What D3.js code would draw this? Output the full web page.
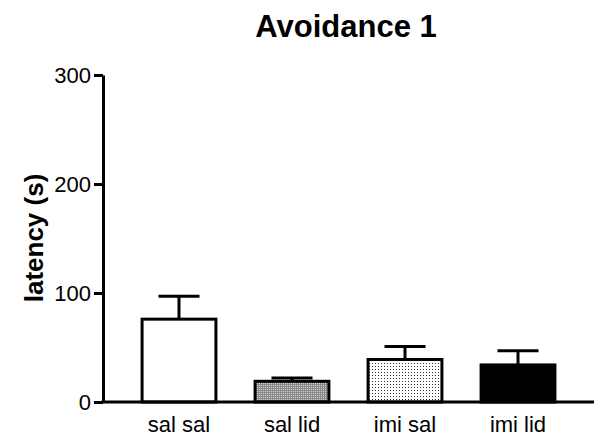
<!DOCTYPE html>
<html>
<head>
<meta charset="utf-8">
<script src="https://cdn.jsdelivr.net/npm/d3@7"></script>
<style>
  body { margin: 0; background: #fff; }
  text { font-family: "Liberation Sans", Arial, sans-serif; }
</style>
</head>
<body>
<svg width="595" height="439"></svg>
<script>
var groups = ["sal sal", "sal lid", "imi sal", "imi lid"];
var means = [76, 19, 39, 34];
var errors = [21, 3, 12, 13];
var fills = ["#ffffff", "url(#grid)", "url(#dots)", "#000000"];
var yTicks = [0, 100, 200, 300];

var svg = d3.select("svg");

var defs = svg.append("defs");
var grid = defs.append("pattern").attr("id", "grid")
    .attr("patternUnits", "userSpaceOnUse").attr("width", 2).attr("height", 2);
grid.append("rect").attr("width", 2).attr("height", 2).attr("fill", "#d0d0d0");
grid.append("rect").attr("width", 1).attr("height", 2).attr("fill", "#8a8a8a");
grid.append("rect").attr("width", 2).attr("height", 1).attr("fill", "#8a8a8a");

var dots = defs.append("pattern").attr("id", "dots")
    .attr("patternUnits", "userSpaceOnUse").attr("width", 3).attr("height", 3);
dots.append("rect").attr("width", 3).attr("height", 3).attr("fill", "#fff");
dots.append("rect").attr("width", 1).attr("height", 1).attr("fill", "#333");

var x = d3.scaleBand().domain(groups).range([122.5, 574.5])
    .paddingInner(0.32).paddingOuter(0.16);
var y = d3.scaleLinear().domain([0, 300]).range([402, 75]);

// bars
svg.append("g").selectAll("rect")
    .data(groups)
    .enter()
    .append("rect")
    .attr("x", function(d) { return x(d) + 1.5; })
    .attr("y", function(d, i) { return y(means[i]); })
    .attr("width", x.bandwidth() - 3)
    .attr("height", function(d, i) { return y(0) - y(means[i]); })
    .attr("fill", function(d, i) { return fills[i]; })
    .attr("stroke", "#000")
    .attr("stroke-width", 3);

// error bars (upper only)
var err = svg.append("g").attr("stroke", "#000").attr("stroke-width", 3);
err.selectAll("line.v")
    .data(groups)
    .enter()
    .append("line")
    .attr("class", "v")
    .attr("x1", function(d) { return x(d) + x.bandwidth() / 2; })
    .attr("x2", function(d) { return x(d) + x.bandwidth() / 2; })
    .attr("y1", function(d, i) { return y(means[i]); })
    .attr("y2", function(d, i) { return y(means[i] + errors[i]); });
err.selectAll("line.c")
    .data(groups)
    .enter()
    .append("line")
    .attr("class", "c")
    .attr("x1", function(d) { return x(d) + x.bandwidth() / 2 - 20.5; })
    .attr("x2", function(d) { return x(d) + x.bandwidth() / 2 + 20.5; })
    .attr("y1", function(d, i) { return y(means[i] + errors[i]); })
    .attr("y2", function(d, i) { return y(means[i] + errors[i]); });

// y axis
var yAxis = svg.append("g")
    .attr("transform", "translate(103,0)")
    .call(d3.axisLeft(y).tickValues(yTicks).tickSize(9).tickSizeOuter(0).tickPadding(3));
yAxis.select(".domain").attr("stroke-width", 3);
yAxis.selectAll(".tick line").attr("stroke-width", 3);
yAxis.selectAll(".tick text").attr("font-size", 22).attr("fill", "#000")
    .attr("font-family", "Liberation Sans, Arial, sans-serif");

// x axis
svg.append("line")
    .attr("x1", 101.5).attr("x2", 594)
    .attr("y1", y(0)).attr("y2", y(0))
    .attr("stroke", "#000").attr("stroke-width", 3);

svg.append("g").selectAll("text")
    .data(groups)
    .enter()
    .append("text")
    .attr("x", function(d) { return x(d) + x.bandwidth() / 2; })
    .attr("y", 432)
    .attr("text-anchor", "middle")
    .attr("font-size", 22)
    .text(function(d) { return d; });

// title and y label
svg.append("text")
    .attr("x", 346).attr("y", 37)
    .attr("text-anchor", "middle")
    .attr("font-size", 31)
    .attr("font-weight", "bold")
    .text("Avoidance 1");

svg.append("text")
    .attr("transform", "translate(43,238) rotate(-90)")
    .attr("text-anchor", "middle")
    .attr("font-size", 26)
    .attr("font-weight", "bold")
    .text("latency (s)");
</script>
</body>
</html>
